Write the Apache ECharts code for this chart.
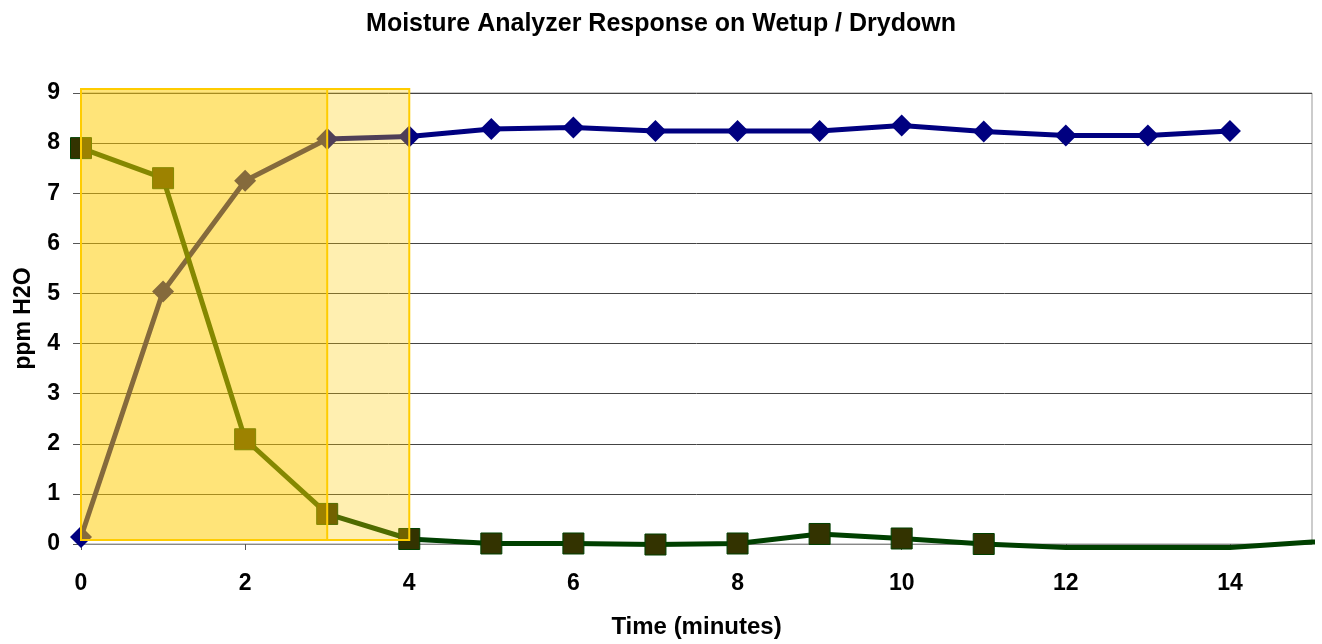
<!DOCTYPE html>
<html>
<head>
<meta charset="utf-8">
<script src="https://cdn.jsdelivr.net/npm/echarts@6/dist/echarts.min.js"></script>
<style>
html,body{margin:0;padding:0;background:#fff;}
#chart{width:1322px;height:644px;}
</style>
</head>
<body>
<div id="chart"></div>
<script>
// Data
var titleText = 'Moisture Analyzer Response on Wetup / Drydown';
var xName = 'Time (minutes)';
var yName = 'ppm H2O';
var wetupX = [0,1,2,3,4,5,6,7,8,9,10,11,12,13,14];
var wetupY = [0.14,5.04,7.25,8.08,8.13,8.28,8.31,8.24,8.24,8.24,8.35,8.23,8.15,8.15,8.24];
var drydownX = [0,1,2,3,4,5,6,7,8,9,10,11,12,13,14,15,16];
var drydownY = [7.9,7.3,2.09,0.6,0.1,0.01,0.01,-0.01,0.01,0.2,0.11,0.0,-0.07,-0.07,-0.07,0.04,0.07];
var drydownMarked = 12; // points with markers (first N)
// highlight windows: [xStart, xEnd, yBottom, yTop]
var windows = [[0,4,0.08,9.08],[0,3,0.08,9.08]];

var chart = echarts.init(document.getElementById('chart'));
var font = '"Liberation Sans", Arial, sans-serif';

var wetData = wetupX.map(function(x,i){return [x, wetupY[i]];});
var dryData = drydownX.map(function(x,i){
  var item = {value:[x, drydownY[i]]};
  if (i >= drydownMarked) item.symbol = 'none';
  return item;
});

chart.setOption({
  animation:false,
  backgroundColor:'#fff',
  title:{text:titleText,left:'center',top:7,
    textStyle:{fontFamily:font,fontWeight:'bold',fontSize:25,color:'#000'}},
  grid:{left:81,top:93,right:10,bottom:99,show:true,borderColor:'#999',borderWidth:1,backgroundColor:'transparent'},
  xAxis:{type:'value',min:0,max:15,interval:2,
    name:xName,nameLocation:'middle',nameGap:71,
    nameTextStyle:{fontFamily:font,fontWeight:'bold',fontSize:24,color:'#000'},
    axisLine:{show:true,lineStyle:{color:'#888',width:1}},
    axisTick:{show:true,length:6,lineStyle:{color:'#555'}},
    axisLabel:{showMaxLabel:false,margin:28,fontFamily:font,fontWeight:'bold',fontSize:23,color:'#000'},
    splitLine:{show:false}},
  yAxis:{type:'value',min:0,max:9,interval:1,
    name:yName,nameLocation:'middle',nameGap:46,nameRotate:90,
    nameTextStyle:{fontFamily:font,fontWeight:'bold',fontSize:23,color:'#000'},
    axisLine:{show:true,lineStyle:{color:'#888',width:1}},
    axisTick:{show:true,length:8,lineStyle:{color:'#555'}},
    axisLabel:{margin:21,fontFamily:font,fontWeight:'bold',fontSize:23,color:'#000'},
    splitLine:{show:true,lineStyle:{color:'#444',width:1}}},
  series:[
    {type:'line',name:'Wetup',data:wetData,z:2,
      symbol:'diamond',symbolSize:22,
      lineStyle:{color:'#000080',width:5},
      itemStyle:{color:'#000080',borderWidth:0}},
    {type:'line',name:'Drydown',data:dryData,z:2,clip:false,
      symbol:'rect',symbolSize:21,
      lineStyle:{color:'#004000',width:5},
      itemStyle:{color:'#333300',borderColor:'#004000',borderWidth:1}},
    {type:'custom',name:'windows',z:5,data:windows,
      renderItem:function(params, api){
        var p0 = api.coord([api.value(0), api.value(3)]);
        var p1 = api.coord([api.value(1), api.value(2)]);
        return {type:'rect',
          shape:{x:p0[0],y:p0[1],width:p1[0]-p0[0],height:p1[1]-p0[1]},
          style:{fill:'rgba(255,204,0,0.31)',stroke:'#FFCC00',lineWidth:2}};
      },
      encode:{x:[0,1],y:[2,3]}}
  ]
});
</script>
</body>
</html>
